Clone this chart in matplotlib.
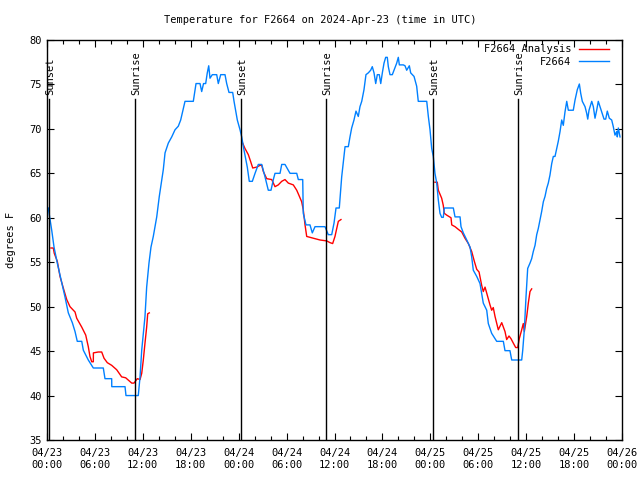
import matplotlib
matplotlib.use("Agg")
import numpy as np
import matplotlib.pyplot as plt
from matplotlib.ticker import MultipleLocator

# hours since 04/23 00:00 UTC
obs_hours = [0.16, 0.59, 0.88, 1.29, 1.84, 2.25, 2.67, 3.17, 3.51, 3.79, 4.35, 4.55, 5.17, 5.80,
             7.05, 7.26, 8.10, 8.11, 9.77, 9.89, 11.43, 11.65, 11.86, 12.27, 12.48, 12.77, 13.02,
             13.31, 13.74, 14.06, 14.56, 14.78, 15.19, 15.62, 16.03, 16.44, 16.74, 17.28, 18.32,
             18.66, 19.16, 19.37, 19.60, 19.87, 20.07, 20.25, 20.41, 20.70, 21.25, 21.45, 21.75,
             22.29, 22.50, 22.79, 23.25, 23.42, 23.83, 24.17, 24.38, 24.67, 25.08, 25.33, 25.71,
             26.05, 26.46, 26.89, 27.30, 27.71, 28.05, 28.34, 28.55, 29.18, 29.39, 29.80, 30.43,
             31.27, 31.47, 32.02, 32.09, 32.43, 32.93, 33.22, 33.56, 34.81, 35.22, 35.65, 35.94,
             36.19, 36.60, 36.90, 37.32, 37.73, 37.94, 38.15, 38.44, 38.69, 38.98, 39.19, 39.41,
             39.69, 39.94, 40.23, 40.53, 40.73, 40.95, 41.16, 41.36, 41.61, 41.79, 41.99, 42.20,
             42.41, 42.61, 42.74, 42.95, 43.24, 43.45, 43.79, 43.99, 44.12, 44.62, 44.83, 45.04,
             45.37, 45.54, 45.96, 46.29, 46.49, 47.55, 47.75, 47.96, 48.17, 48.37, 48.58, 48.80,
             49.00, 49.21, 49.42, 49.62, 49.75, 50.88, 51.09, 51.72, 51.84, 52.13, 52.56, 52.97,
             53.18, 53.38, 53.81, 54.22, 54.43, 54.63, 55.06, 55.26, 55.68, 56.31, 57.14, 57.35,
             57.97, 58.19, 59.44, 59.57, 59.77, 59.98, 60.19, 60.48, 60.69, 60.89, 61.11, 61.32,
             61.52, 61.73, 61.94, 62.15, 62.36, 62.57, 62.77, 62.98, 63.20, 63.40, 63.61, 63.82,
             64.02, 64.24, 64.45, 64.65, 64.86, 65.08, 65.28, 65.90, 66.12, 66.40, 66.66, 66.83,
             67.03, 67.37, 67.58, 67.71, 67.87, 68.21, 68.41, 68.62, 68.83, 69.03, 69.25, 69.53,
             69.75, 69.96, 70.16, 70.41, 70.71, 70.91, 71.12, 71.34, 71.41, 71.54, 71.75]
obs_temp = [61.1, 58.6, 56.7, 54.9, 52.7, 51.1, 49.3, 48.2, 47.2, 46.1, 46.1, 45.1, 44.0, 43.1,
            43.1, 41.9, 41.9, 41.0, 41.0, 40.0, 40.0, 42.1, 45.1, 48.9, 52.2, 54.9, 56.7,
            57.9, 60.1, 62.4, 65.4, 67.3, 68.4, 69.1, 69.9, 70.3, 71.0, 73.1, 73.1,
            75.1, 75.1, 74.2, 75.1, 75.1, 76.3, 77.1, 75.7, 76.1, 76.1, 75.1, 76.1,
            76.1, 75.1, 74.1, 74.1, 73.1, 71.0, 69.9, 69.1, 67.6, 65.7, 64.1, 64.1,
            65.0, 66.0, 66.0, 64.6, 63.1, 63.1, 64.3, 65.0, 65.0, 66.0, 66.0, 65.0,
            65.0, 64.3, 64.3, 60.5, 59.2, 59.2, 58.3, 59.0, 59.0, 58.1, 58.1, 59.4,
            61.1, 61.1, 64.6, 68.0, 68.0, 69.1, 70.1, 71.0, 72.0, 71.4, 72.5, 73.1,
            74.4, 76.1, 76.3, 76.6, 77.0, 76.3, 75.1, 76.1, 76.1, 75.1, 76.3, 77.4,
            78.05, 78.05, 77.0, 76.1, 76.1, 76.6, 77.4, 78.05, 77.2, 77.2, 77.1, 76.6,
            77.1, 76.3, 75.9, 74.8, 73.1, 73.1, 71.4, 69.9, 67.8, 66.9, 65.0, 63.9,
            62.0, 60.5, 60.05, 60.05, 61.1, 61.1, 60.1, 60.1, 59.0, 58.3, 57.5, 56.7,
            55.6, 54.1, 53.4, 52.6, 51.5, 50.4, 49.6, 48.1, 47.0, 46.1, 46.1, 45.05,
            45.05, 44.0, 44.0, 45.1, 47.4, 51.1, 54.3, 54.9, 55.4, 56.2, 56.9, 58.1,
            58.8, 59.75, 60.7, 61.8, 62.4, 63.3, 63.9, 64.8, 66.1, 66.9, 66.9, 67.8,
            68.6, 69.7, 71.0, 70.4, 71.9, 73.1, 72.1, 72.1, 73.25, 74.4, 75.05, 74.0,
            73.1, 72.5, 71.75, 71.1, 72.1, 73.1, 72.5, 71.2, 72.1, 73.1, 72.5, 71.75,
            71.1, 71.1, 72.0, 71.2, 71.0, 70.25, 69.3, 69.7, 69.1, 70.1, 69.1]

# analysis runs (three separate pieces)
ana1_hours = [0.50, 0.79, 0.91, 1.29, 1.63, 2.04, 2.47, 2.88, 3.51, 3.72, 4.35, 4.85, 5.17, 5.38,
              5.60, 5.80, 5.81, 6.42, 6.85, 7.14, 7.55, 8.10, 8.73, 9.35, 9.85, 10.61, 10.89,
              11.31, 11.65, 11.86, 12.06, 12.27, 12.48, 12.61, 12.81]
ana1_temp = [56.6, 56.6, 56.0, 55.1, 53.4, 52.1, 50.8, 50.0, 49.4, 48.7, 47.7, 46.8, 45.5, 44.4,
             43.8, 43.8, 44.8, 44.9, 44.9, 44.2, 43.7, 43.4, 42.9, 42.1, 42.0, 41.4, 41.4,
             41.9, 41.8, 42.5, 44.0, 45.9, 47.7, 49.2, 49.3]
ana2_hours = [24.40, 24.79, 25.21, 25.51, 25.76, 26.26, 26.67, 26.89, 27.09, 27.51, 28.14, 28.55,
              28.96, 29.39, 29.80, 30.22, 30.84, 31.27, 31.56, 31.89, 32.09, 32.31, 32.52, 33.35,
              34.19, 35.02, 35.44, 35.77, 36.06, 36.28, 36.48, 36.81]
ana2_temp = [68.6, 67.8, 67.1, 66.3, 65.6, 65.7, 65.9, 65.9, 65.2, 64.4, 64.3, 63.5,
             63.7, 64.1, 64.3, 63.9, 63.7, 63.1, 62.5, 61.8, 60.9, 59.2, 57.9, 57.7,
             57.5, 57.4, 57.2, 57.1, 57.9, 58.8, 59.6, 59.8]
ana3_hours = [48.58, 48.87, 49.00, 49.42, 49.62, 49.75, 50.05, 50.59, 50.68, 51.09, 51.50, 51.93,
              52.34, 52.76, 53.18, 53.51, 53.81, 54.10, 54.43, 54.63, 54.85, 55.13, 55.47, 55.68,
              55.88, 56.10, 56.51, 56.94, 57.35, 57.56, 57.85, 58.10, 58.39, 58.69, 58.94, 59.14,
              59.44, 59.64, 59.77, 60.07, 60.27, 60.48, 60.69]
ana3_temp = [64.0, 64.0, 63.1, 62.2, 61.4, 60.5, 60.3, 60.0, 59.2, 59.0, 58.7, 58.4,
             57.7, 57.1, 56.2, 55.1, 54.2, 53.9, 52.4, 51.7, 52.2, 51.3, 50.2, 49.6,
             49.9, 48.9, 47.4, 48.2, 47.2, 46.3, 46.7, 46.4, 45.9, 45.4, 45.4, 46.4,
             47.4, 48.1, 47.2, 48.9, 50.4, 51.7, 52.0]

sun_hours = [0.25, 11.0, 24.3, 34.9, 48.3, 58.95]
sun_labels = ["Sunset", "Sunrise", "Sunset", "Sunrise", "Sunset", "Sunrise"]

tick_hours = list(range(0, 73, 6))
tick_labels = ["04/23\n00:00", "04/23\n06:00", "04/23\n12:00", "04/23\n18:00",
               "04/24\n00:00", "04/24\n06:00", "04/24\n12:00", "04/24\n18:00",
               "04/25\n00:00", "04/25\n06:00", "04/25\n12:00", "04/25\n18:00",
               "04/26\n00:00"]

plt.rcParams['font.family'] = ['DejaVu Sans Mono']
plt.rcParams['font.size'] = 7.5

fig = plt.figure(figsize=(6.4, 4.8), dpi=100, facecolor='white')
ax = fig.add_axes([47/640, 40/480, 575/640, 400/480])

red = '#ff0000'
blue = '#0080ff'
ax.plot(ana1_hours, ana1_temp, color=red, lw=1, label='F2664 Analysis')
ax.plot(ana2_hours, ana2_temp, color=red, lw=1)
ax.plot(ana3_hours, ana3_temp, color=red, lw=1)
ax.plot(obs_hours, obs_temp, color=blue, lw=1, label='F2664')

for h, lab in zip(sun_hours, sun_labels):
    ax.plot([h, h], [35, 73.4], color='black', lw=1)
    ax.text(h + 0.2, 73.8, lab, rotation=90, ha='center', va='bottom', fontsize=7.5)

ax.set_xlim(0, 72)
ax.set_ylim(35, 80)
ax.set_xticks(tick_hours)
ax.set_xticklabels(tick_labels)
ax.xaxis.set_minor_locator(MultipleLocator(2))
ax.yaxis.set_major_locator(MultipleLocator(5))
ax.tick_params(which='both', direction='in', top=True, right=True, width=0.8)
ax.tick_params(which='major', length=5)
ax.tick_params(which='minor', length=3)
ax.tick_params(axis='x', pad=6)
for s in ax.spines.values():
    s.set_linewidth(1)

ax.set_ylabel('degrees F', labelpad=10)
fig.text(0.5, 1 - 20/480, 'Temperature for F2664 on 2024-Apr-23 (time in UTC)',
         ha='center', va='center', fontsize=7.5)

ax.legend(loc='upper right', bbox_to_anchor=(0.984, 1.0), frameon=False, markerfirst=False,
          handlelength=2.8, borderaxespad=0.2, borderpad=0.2, labelspacing=0.25,
          handletextpad=0.8)

fig.savefig('out.png', dpi=100)
